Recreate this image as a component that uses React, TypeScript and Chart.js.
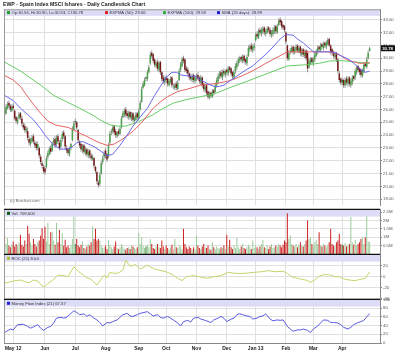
import React, { useEffect, useRef } from 'react';
import { Chart, registerables } from 'chart.js';
Chart.register(...registerables);

const FONT = '"Liberation Sans", Arial, Helvetica, sans-serif';

// ---- x axis (trading-day index; 0 = 23 Apr 2012) ----
const X_MIN = -0.4;
const X_MAX = 260.2;
const MONTH_TICKS = [6, 28, 49, 70, 93, 112, 133, 154, 174, 195, 214, 234];
const MONTH_LABELS = ['May 12', 'Jun', 'Jul', 'Aug', 'Sep', 'Oct', 'Nov', 'Dec', 'Jan 13', 'Feb', 'Mar', 'Apr'];

// ---- price data ----
const OPEN = [
25.9,25.7,26.1,26.5,26.3,25.9,26.3,25.9,25.4,25.0,
25.3,25.7,25.3,24.8,24.7,24.3,24.3,23.7,23.3,23.5,
23.9,23.4,23.3,23.0,23.0,22.3,21.8,21.5,21.4,21.5,
22.3,22.5,23.0,22.8,23.4,23.7,23.3,23.9,23.4,23.1,
23.7,24.2,23.9,23.0,22.9,22.5,23.0,23.6,24.4,25.1,
25.0,24.4,23.5,23.3,22.8,23.2,22.6,22.9,22.4,22.8,
22.4,22.1,22.2,21.5,21.1,20.3,20.2,21.0,21.9,22.3,
22.8,22.5,22.3,23.4,24.2,24.3,24.7,24.3,23.9,24.3,
24.1,24.6,25.4,25.6,26.0,25.7,25.4,25.8,25.3,25.7,
25.1,25.2,25.7,25.3,26.0,26.6,27.7,27.9,28.5,28.4,
28.9,29.6,30.4,30.3,29.9,29.4,29.7,29.1,29.7,28.9,
28.5,28.1,28.5,28.4,27.9,28.1,28.5,27.8,27.7,28.0,
27.6,28.3,29.1,29.4,30.0,29.9,29.2,29.1,28.8,28.6,
28.3,28.7,28.2,28.4,28.7,28.5,28.1,28.5,28.0,27.5,
27.9,27.4,26.9,27.3,27.0,27.5,27.4,27.9,28.2,28.6,
28.9,28.5,29.0,28.7,29.1,28.8,29.3,29.2,28.9,28.5,
29.0,29.3,29.6,29.8,30.1,29.8,30.2,29.9,29.6,30.2,
30.7,31.0,30.6,30.8,31.4,31.9,31.6,32.2,31.9,32.1,
32.4,31.9,32.0,32.4,32.2,31.8,31.9,32.1,32.5,32.0,
32.6,33.0,32.9,32.6,32.5,32.0,31.0,29.9,30.5,30.5,
30.9,30.4,30.6,31.0,30.5,30.9,30.3,30.7,30.2,30.6,
30.4,29.3,29.6,30.0,29.6,29.9,30.2,30.5,30.9,30.6,
31.1,30.8,31.2,30.9,31.1,31.5,31.0,30.7,30.5,30.1,
30.4,29.9,28.8,28.4,28.3,28.3,27.9,28.4,28.0,28.5,
27.9,28.1,28.6,28.5,28.9,29.4,29.2,29.1,28.6,28.9,
29.6,29.3,30.0,30.56];
const HIGH = [
26.1,26.4,26.6,26.7,26.4,26.4,26.5,26.0,25.5,25.4,
25.8,25.8,25.5,25.0,24.9,24.7,24.6,23.9,23.8,24.0,
24.1,23.6,23.5,23.5,23.1,22.5,22.0,21.7,21.6,22.4,
22.8,23.1,23.2,23.5,23.8,23.9,24.0,24.1,23.6,23.8,
24.3,24.4,24.0,23.2,23.0,23.1,23.4,24.7,25.1,25.3,
25.1,24.5,23.6,23.4,23.3,23.3,23.1,23.0,22.9,22.9,
22.6,22.5,22.3,21.6,21.2,20.5,21.1,22.0,22.4,22.8,
23.0,22.6,23.4,24.3,24.5,24.8,24.8,24.5,24.3,24.5,
24.7,25.5,25.9,26.1,26.2,25.9,25.9,25.9,25.8,25.8,
25.5,25.8,25.8,26.1,26.7,27.8,28.2,28.5,28.6,29.1,
29.5,30.5,30.6,30.4,30.0,29.8,29.9,29.8,29.8,29.0,
28.7,28.6,28.7,28.5,28.4,28.6,28.6,28.0,28.1,28.2,
28.3,29.2,29.7,30.1,30.2,30.0,29.4,29.3,28.9,28.8,
28.8,28.8,28.7,28.8,28.9,28.6,28.7,28.6,28.1,28.0,
28.0,27.5,27.4,27.4,27.6,27.6,28.1,28.5,28.8,29.0,
29.1,29.1,29.2,29.1,29.2,29.4,29.4,29.3,29.0,29.1,
29.6,29.8,30.1,30.2,30.2,30.3,30.3,30.0,30.3,31.0,
31.1,31.2,31.1,31.2,32.0,32.1,32.3,32.4,32.4,32.5,
32.5,32.3,32.5,32.5,32.4,32.2,32.4,32.6,32.6,32.7,
33.1,33.2,33.0,32.7,32.6,32.1,31.1,30.6,30.8,31.0,
31.0,30.9,31.1,31.1,31.0,31.0,30.8,30.8,30.7,30.7,
30.6,30.0,30.1,30.1,30.1,30.5,30.7,31.0,31.0,31.2,
31.2,31.3,31.3,31.4,31.6,31.6,31.1,30.8,30.6,30.5,
30.5,30.0,29.0,28.5,28.5,28.4,28.5,28.6,28.6,28.6,
28.4,28.7,28.7,29.2,29.5,29.5,29.3,29.2,29.2,29.7,
29.7,30.1,30.6,30.90];
const LOW = [
25.4,25.6,26.0,26.1,25.8,25.8,25.9,25.2,24.9,24.8,
25.2,25.2,24.7,24.4,24.2,24.1,23.6,23.2,23.1,23.4,
23.3,23.0,22.8,22.8,22.2,21.7,21.4,21.0,20.9,21.4,
22.1,22.4,22.5,22.7,23.2,23.0,23.1,23.3,22.8,22.9,
23.5,23.7,22.9,22.6,22.4,22.3,22.8,23.5,24.3,24.8,
24.4,23.4,23.0,22.7,22.6,22.5,22.4,22.3,22.2,22.2,
22.0,22.0,21.4,21.0,20.2,19.9,20.0,20.9,21.7,22.1,
22.2,21.9,22.2,23.2,24.0,24.1,24.0,23.8,23.8,23.9,
24.0,24.5,25.3,25.4,25.4,25.3,25.2,25.2,25.1,25.0,
24.9,25.1,25.2,25.2,25.9,26.5,27.6,27.8,28.2,28.2,
28.8,29.5,30.0,29.6,29.3,29.2,29.0,28.9,28.7,28.2,
28.0,27.9,28.1,27.8,27.8,28.0,27.7,27.6,27.5,27.5,
27.5,28.2,28.9,29.3,29.6,28.9,28.8,28.6,28.3,28.2,
28.1,28.1,28.0,28.2,28.3,28.0,27.9,27.7,27.4,27.3,
27.1,26.8,26.8,26.9,26.9,27.1,27.3,27.7,28.0,28.4,
28.4,28.3,28.6,28.5,28.7,28.6,28.9,28.6,28.4,28.3,
28.8,29.1,29.4,29.6,29.7,29.6,29.6,29.5,29.4,30.1,
30.5,30.5,30.4,30.6,31.3,31.5,31.5,31.8,31.7,31.9,
31.8,31.7,31.9,32.0,31.7,31.6,31.7,31.9,31.9,31.9,
32.5,32.6,32.3,32.2,32.0,31.1,29.8,29.8,30.3,30.4,
30.3,30.3,30.5,30.4,30.4,30.2,30.1,30.1,30.0,29.8,
28.9,29.2,29.5,29.5,29.4,29.7,30.1,30.3,30.5,30.5,
30.7,30.6,30.8,30.7,31.0,30.9,30.3,30.2,30.0,29.9,
29.7,28.8,28.1,27.9,27.9,27.7,27.7,27.9,27.8,27.8,
27.7,27.9,28.2,28.3,28.7,28.9,28.7,28.5,28.5,28.8,
29.3,29.2,29.9,30.53];
const CLOSE = [
25.6,26.2,26.4,26.3,26.0,26.2,26.1,25.3,25.1,25.2,
25.6,25.4,24.9,24.6,24.4,24.5,23.8,23.4,23.6,23.8,
23.5,23.2,23.0,23.3,22.4,21.9,21.6,21.2,21.1,22.2,
22.6,22.9,22.7,23.3,23.6,23.2,23.8,23.5,23.0,23.6,
24.1,23.9,23.1,22.8,22.6,22.9,23.3,24.5,24.9,25.0,
24.6,23.6,23.2,22.9,23.1,22.7,22.9,22.5,22.7,22.4,
22.2,22.3,21.6,21.2,20.4,20.1,20.9,21.8,22.2,22.6,
22.4,22.1,23.2,24.1,24.3,24.6,24.2,24.0,24.2,24.1,
24.5,25.3,25.7,25.9,25.6,25.5,25.7,25.4,25.6,25.2,
25.3,25.6,25.4,25.9,26.5,27.6,28.0,28.3,28.4,28.9,
29.3,30.3,30.2,29.8,29.5,29.6,29.2,29.6,28.9,28.4,
28.2,28.4,28.3,28.0,28.2,28.4,27.9,27.8,27.9,27.7,
28.1,29.0,29.5,29.9,29.8,29.1,29.0,28.8,28.5,28.4,
28.6,28.3,28.5,28.6,28.4,28.2,28.5,27.9,27.6,27.8,
27.3,27.0,27.2,27.1,27.4,27.3,27.9,28.3,28.6,28.8,
28.6,28.9,28.8,29.0,28.9,29.2,29.1,28.8,28.6,28.9,
29.4,29.6,29.9,30.0,29.9,30.1,29.8,29.7,30.1,30.8,
30.9,30.7,30.9,31.0,31.8,31.7,32.1,32.0,32.2,32.3,
32.0,32.1,32.3,32.2,31.9,32.0,32.2,32.4,32.1,32.5,
32.9,32.8,32.5,32.4,32.2,31.3,30.0,30.4,30.6,30.8,
30.5,30.7,30.9,30.6,30.8,30.4,30.6,30.3,30.5,30.0,
29.2,29.8,29.9,29.7,29.9,30.3,30.5,30.8,30.7,31.0,
30.9,31.1,31.0,31.2,31.4,31.0,30.5,30.4,30.2,30.3,
29.9,29.0,28.3,28.1,28.1,27.9,28.3,28.1,28.4,28.0,
28.2,28.5,28.4,29.0,29.3,29.1,28.9,28.7,29.0,29.5,
29.4,29.9,30.4,30.78];

// volume in millions of shares
const VOLUME = [
1.09,0.6,0.95,0.5,0.4,0.55,0.75,0.45,0.6,0.5,
0.7,1.15,0.55,0.45,0.8,0.6,1.67,1.2,0.7,0.5,
0.9,0.6,0.45,0.7,0.8,1.1,1.53,0.9,1.63,0.75,
1.86,0.6,1.3,1.33,0.8,0.55,1.86,0.7,1.43,0.6,
1.25,0.5,0.85,0.4,0.5,0.35,0.55,0.9,2.22,0.6,
0.9,0.5,0.4,0.55,0.75,0.35,0.3,0.45,0.6,0.5,
0.7,1.64,0.9,1.5,0.8,0.9,0.8,0.5,0.35,0.4,
0.5,0.3,0.8,0.55,0.4,0.3,0.45,0.75,0.35,0.3,
0.4,0.6,0.45,0.3,0.25,0.35,0.4,0.3,0.5,0.45,
0.35,0.3,0.4,1.26,0.6,1.0,0.5,0.35,0.45,0.55,
0.4,0.9,0.6,0.35,0.3,0.45,0.6,0.4,0.35,0.8,
0.45,0.3,0.5,0.35,0.25,0.4,0.55,0.3,0.9,0.4,
0.35,0.5,0.45,0.3,1.5,0.6,0.4,0.3,0.45,0.35,
0.25,0.4,0.3,1.07,0.5,0.35,0.3,0.45,0.6,0.4,
0.35,0.5,0.3,0.25,0.7,0.4,0.3,0.45,0.35,0.3,
0.4,0.35,0.5,0.3,1.15,0.45,0.85,0.4,0.3,0.5,
0.35,0.95,0.4,0.3,0.45,0.6,0.35,0.3,0.4,0.55,
0.45,0.3,0.8,0.35,0.5,0.4,0.3,0.45,0.6,0.85,
0.4,0.35,0.5,0.3,0.45,0.6,0.35,0.4,0.5,0.45,
0.6,0.5,0.4,0.55,0.8,0.7,2.42,0.9,1.1,0.6,
0.5,0.45,0.6,0.4,0.55,0.7,0.5,0.45,0.6,0.8,
2.0,0.9,1.0,0.6,0.5,0.7,0.85,0.6,1.3,0.5,
0.45,0.6,0.5,0.4,0.55,0.7,1.5,0.6,0.5,0.45,
0.7,0.8,1.2,0.6,0.55,0.5,0.65,0.45,0.5,0.6,
2.2,0.7,0.55,0.85,0.5,0.6,0.7,0.9,1.0,0.6,
1.0,2.25,0.75,0.7096];

const SMA20_K = [0,6,11,16,20,25,28,31,34,39,43,46,50,54,58,62,66,71,75,80,85,89,94,99,104,108,112,116,119,122,128,132,136,141,145,149,152,157,161,166,172,177,182,187,191,195,200,203,207,210,214,217,222,226,230,233,237,240,244,247,250,253];
const SMA20_V = [27.1,26.7,26.1,25.6,25.2,24.5,24.0,23.6,23.2,22.9,22.9,23.0,23.4,23.5,23.3,23.1,22.8,22.4,22.5,23.2,24.0,24.7,25.4,26.1,27.1,27.8,28.5,28.9,28.9,28.7,28.6,28.6,28.3,28.0,27.8,27.8,27.9,28.3,28.6,29.0,29.4,29.9,30.4,31.0,31.5,31.85,31.8,31.5,31.2,30.9,30.5,30.5,30.5,30.5,30.4,30.2,30.0,29.8,29.4,29.1,28.9,28.99];
const EMA50_K = [0,6,11,16,20,25,30,35,39,44,48,53,57,62,66,71,76,82,89,96,103,108,113,120,127,136,145,150,156,162,168,175,181,186,191,196,203,210,217,224,229,233,237,241,246,253];
const EMA50_V = [28.65,28.3,27.8,27.0,26.4,25.7,25.1,24.8,24.7,24.6,24.4,24.1,23.9,23.6,23.4,23.2,23.3,23.7,24.3,25.1,26.1,26.6,27.0,27.4,27.6,27.9,28.0,28.1,28.25,28.5,28.8,29.2,29.6,29.9,30.2,30.5,30.5,30.5,30.5,30.5,30.4,30.2,29.9,29.75,29.6,29.66];
const EMA100_K = [0,11,25,34,43,52,62,66,73,78,84,92,103,110,117,127,136,145,156,168,182,196,210,218,226,235,243,253];
const EMA100_V = [29.7,29.0,27.9,27.1,26.6,26.1,25.5,25.2,24.8,24.7,24.7,25.0,25.6,26.1,26.5,26.8,27.0,27.2,27.7,28.2,28.8,29.4,29.5,29.6,29.8,29.8,29.7,29.59];

// indicators
const ROC_K = [0,4,8,11,14,17,20,23,26,28,30,33,36,37,41,44,48,51,53,57,60,64,66,69,71,73,76,79,82,84,87,91,94,99,103,107,112,117,120,123,126,131,135,140,145,150,155,160,166,173,178,183,188,193,196,199,203,207,210,212,215,218,222,226,229,232,235,239,243,246,250,253];
const ROC_V = [-12,-9,-7,-6,-9,-11,-6,-8,-17,-18,-12,-7,0,3,2,0,18,10,6,-2,-5,-15,-8,3,-2,8,6,7,12,30,19,22,14,21,15,12,9,3,-3,-7,0,2,0,-3,0,2,8,6,6,8,9,11,9,10,6,0,-3,-5,-7,-10,-6,1,4,3,0,0,-4,-6,-7,-5,-3,8.64];
const MFI_K = [0,4,6,9,13,16,18,20,23,25,27,30,32,34,36,39,41,43,45,48,50,52,55,57,59,62,64,66,68,71,73,75,78,82,85,87,89,92,94,99,101,103,106,108,110,113,115,117,120,122,124,127,129,131,134,136,139,143,145,148,150,152,154,157,159,161,163,165,168,170,172,175,177,179,181,184,186,189,191,193,196,198,200,203,205,207,210,212,214,217,219,221,224,226,228,231,233,235,238,240,242,245,247,249,253];
const MFI_V = [24,32,30,42,43,38,34,37,42,34,29,36,38,46,57,59,57,59,65,74,70,65,67,61,65,57,53,47,39,47,46,49,53,65,68,62,61,65,68,72,67,62,65,59,57,61,57,53,46,39,49,52,48,57,59,55,52,47,53,57,61,57,49,55,57,65,67,65,62,61,55,57,61,62,67,55,51,53,52,53,38,32,27,30,30,32,29,24,32,39,46,53,52,47,47,46,42,36,32,36,42,47,49,52,67.57];

// axis tick values
const PRICE_TICKS = [19,20,21,22,23,24,25,26,27,28,29,30,31,32,33];
const VOL_TICKS = [0.5,1,1.5,2,2.5];
const ROC_TICKS = [-40,-20,0,20];
const MFI_TICKS = [0,20,40,60,80,100];

const GRID = '#e0e0e0';
const STRIP = '#dcdcf6';
const LAST = CLOSE.length - 1;

const pts = (ks: number[], vs: number[]) => ks.map((k, i) => ({ x: k, y: vs[i] }));

function xScale(show: boolean): any {
  return {
    type: 'linear', min: X_MIN, max: X_MAX, offset: false,
    afterBuildTicks: (s: any) => { s.ticks = MONTH_TICKS.map((v) => ({ value: v })); },
    afterFit: (s: any) => { s.height = show ? 19 : 0; },
    grid: { color: GRID, lineWidth: 1, drawTicks: false, offset: false },
    border: { display: show, color: '#888' },
    ticks: {
      display: show, autoSkip: false, maxRotation: 0, minRotation: 0, padding: 3, color: '#222',
      font: { size: 5, weight: 'bold', family: FONT },
      callback: (_v: any, i: number) => MONTH_LABELS[i],
    },
  };
}

function yScale(min: number, max: number, ticks: number[], fmt: (v: number) => string): any {
  return {
    position: 'right', min, max,
    afterBuildTicks: (s: any) => { s.ticks = ticks.map((v) => ({ value: v })); },
    afterFit: (s: any) => { s.width = 20; },
    grid: { color: GRID, lineWidth: 1, drawTicks: true, tickLength: 2, tickColor: '#888' },
    border: { display: true, color: '#888' },
    ticks: { autoSkip: false, padding: 1, color: '#555', font: { size: 4.3, family: FONT }, callback: (v: any) => fmt(Number(v)) },
  };
}

type Item = { x: number; color: string; text: string };

function decoPlugin(items: Item[], opts: { stripOff: number; main?: boolean }): any {
  return {
    id: 'deco',
    beforeDatasetsDraw(chart: any) {
      const { ctx, chartArea: a } = chart;
      ctx.save();
      ctx.fillStyle = STRIP;
      const top = a.top + opts.stripOff;
      const h = 6.6;
      ctx.fillRect(a.left, top, a.right - a.left, h);
      ctx.font = `4.2px ${FONT}`;
      ctx.textBaseline = 'middle';
      ctx.textAlign = 'left';
      const cy = top + h / 2;
      items.forEach((it) => {
        ctx.fillStyle = it.color;
        ctx.fillRect(it.x, cy - 1.5, 3, 3);
        ctx.fillStyle = '#333';
        ctx.fillText(it.text, it.x + 4.5, cy + 0.2);
      });
      if (opts.main) {
        ctx.fillStyle = '#666';
        ctx.font = `4px ${FONT}`;
        ctx.fillText('(c) Barchart.com', a.left + 6, a.bottom - 5);
      }
      ctx.restore();
    },
    afterDraw(chart: any) {
      const { ctx, chartArea: a } = chart;
      ctx.save();
      ctx.strokeStyle = '#999';
      ctx.lineWidth = 1;
      ctx.beginPath();
      ctx.moveTo(a.left + 0.5, a.top);
      ctx.lineTo(a.left + 0.5, a.bottom);
      ctx.stroke();
      if (opts.main) {
        ctx.beginPath();
        ctx.moveTo(a.left, a.top + 0.5);
        ctx.lineTo(a.right, a.top + 0.5);
        ctx.stroke();
        ctx.fillStyle = '#222';
        ctx.font = `bold 5.2px ${FONT}`;
        ctx.textBaseline = 'middle';
        ctx.textAlign = 'left';
        ctx.fillText('EWP - Spain Index MSCI Ishares - Daily Candlestick Chart', 3, 4.6);
        const y = chart.scales.y.getPixelForValue(CLOSE[LAST]);
        ctx.fillStyle = '#111';
        ctx.fillRect(a.right + 1, y - 3, 14, 6);
        ctx.fillStyle = '#fff';
        ctx.font = `bold 4.3px ${FONT}`;
        ctx.fillText(CLOSE[LAST].toFixed(2), a.right + 2.2, y + 0.2);
      } else {
        ctx.strokeStyle = '#111';
        ctx.lineWidth = 1.3;
        ctx.beginPath();
        ctx.moveTo(a.left, a.top + 0.3);
        ctx.lineTo(a.right, a.top + 0.3);
        ctx.stroke();
      }
      ctx.restore();
    },
  };
}

const baseOptions = (padTop: number, padBottom: number) => ({
  responsive: false,
  animation: false,
  devicePixelRatio: 1,
  events: [],
  layout: { padding: { left: 4, right: 0, top: padTop, bottom: padBottom } },
  plugins: { legend: { display: false }, tooltip: { enabled: false }, title: { display: false } },
});

function mainConfig(): any {
  const idx = CLOSE.map((_, i) => i);
  const bodyColors = idx.map((i) => {
    const prev = i > 0 ? CLOSE[i - 1] : OPEN[i];
    const up = CLOSE[i] >= prev;
    const hollow = CLOSE[i] >= OPEN[i];
    if (up) return hollow ? '#4aa04a' : '#237323';
    return hollow ? '#a86060' : '#741818';
  });
  return {
    type: 'bar',
    data: {
      datasets: [
        { type: 'bar', data: idx.map((i) => ({ x: i, y: [LOW[i], HIGH[i]] })), backgroundColor: '#8c8c8c', barThickness: 0.9, grouped: false, inflateAmount: 0, borderWidth: 0, order: 4 },
        { type: 'bar', data: idx.map((i) => ({ x: i, y: [OPEN[i], CLOSE[i]] })), backgroundColor: bodyColors, barThickness: 1.5, grouped: false, inflateAmount: 0, borderWidth: 0, order: 3 },
        { type: 'line', data: pts(EMA100_K, EMA100_V), borderColor: '#66cc66', borderWidth: 1, pointRadius: 0, tension: 0, fill: false, order: 2 },
        { type: 'line', data: pts(EMA50_K, EMA50_V), borderColor: '#e46464', borderWidth: 1, pointRadius: 0, tension: 0, fill: false, order: 1 },
        { type: 'line', data: pts(SMA20_K, SMA20_V), borderColor: '#6a6aec', borderWidth: 1, pointRadius: 0, tension: 0, fill: false, order: 0 },
      ],
    },
    options: {
      ...baseOptions(9.3, 0),
      scales: { x: xScale(false), y: yScale(18.51, 33.82, PRICE_TICKS, (v) => v.toFixed(2)) },
    },
    plugins: [decoPlugin([
      { x: 7, color: '#20a020', text: `Op:${OPEN[LAST].toFixed(2)}, Hi:${HIGH[LAST].toFixed(2)}, Lo:${LOW[LAST].toFixed(2)}, Cl:${CLOSE[LAST].toFixed(2)}` },
      { x: 105, color: '#e02020', text: `EXPMA (50): ${EMA50_V[EMA50_V.length - 1].toFixed(2)}` },
      { x: 163, color: '#30b030', text: `EXPMA (100): ${EMA100_V[EMA100_V.length - 1].toFixed(2)}` },
      { x: 217, color: '#2020d0', text: `SMA (20 days): ${SMA20_V[SMA20_V.length - 1].toFixed(2)}` },
    ], { main: true, stripOff: 0 })],
  };
}

function volConfig(): any {
  const idx = VOLUME.map((_, i) => i);
  const colors = idx.map((i) => {
    const prev = i > 0 ? CLOSE[i - 1] : OPEN[i];
    const up = CLOSE[i] >= prev;
    const hollow = CLOSE[i] >= OPEN[i];
    if (up) return hollow ? '#9ccb9c' : '#2a7a2a';
    return hollow ? '#eea6a6' : '#cc2222';
  });
  return {
    type: 'bar',
    data: { datasets: [{ type: 'bar', data: idx.map((i) => ({ x: i, y: VOLUME[i] })), backgroundColor: colors, barThickness: 1, grouped: false, inflateAmount: 0, borderWidth: 0 }] },
    options: {
      ...baseOptions(4, 4),
      scales: { x: xScale(false), y: yScale(0, 2.68, VOL_TICKS, (v) => `${v}M`) },
    },
    plugins: [decoPlugin([{ x: 7, color: '#0a5a0a', text: `Vol: ${Math.round(VOLUME[LAST] * 1e6).toLocaleString('en-US')}` }], { stripOff: 1 })],
  };
}

function rocConfig(): any {
  return {
    type: 'line',
    data: { datasets: [{ data: pts(ROC_K, ROC_V), borderColor: '#c4d46a', borderWidth: 1, pointRadius: 0, tension: 0, fill: false }] },
    options: {
      ...baseOptions(4, 4),
      scales: { x: xScale(false), y: yScale(-40.5, 41.3, ROC_TICKS, (v) => String(v)) },
    },
    plugins: [decoPlugin([{ x: 7, color: '#a8c030', text: `ROC (21) ${ROC_V[ROC_V.length - 1].toFixed(2)}` }], { stripOff: 1 })],
  };
}

function mfiConfig(): any {
  return {
    type: 'line',
    data: { datasets: [{ data: pts(MFI_K, MFI_V), borderColor: '#5a5ae0', borderWidth: 1, pointRadius: 0, tension: 0, fill: false }] },
    options: {
      ...baseOptions(4, 0),
      scales: { x: xScale(true), y: yScale(0, 101, MFI_TICKS, (v) => String(v)) },
    },
    plugins: [decoPlugin([{ x: 7, color: '#2020d0', text: `Money Flow Index (21) ${MFI_V[MFI_V.length - 1].toFixed(2)}` }], { stripOff: 1 })],
  };
}

export default function App() {
  const r1 = useRef<HTMLCanvasElement>(null);
  const r2 = useRef<HTMLCanvasElement>(null);
  const r3 = useRef<HTMLCanvasElement>(null);
  const r4 = useRef<HTMLCanvasElement>(null);

  useEffect(() => {
    Chart.defaults.font.family = FONT;
    const charts = [
      new Chart(r1.current as HTMLCanvasElement, mainConfig()),
      new Chart(r2.current as HTMLCanvasElement, volConfig()),
      new Chart(r3.current as HTMLCanvasElement, rocConfig()),
      new Chart(r4.current as HTMLCanvasElement, mfiConfig()),
    ];
    return () => charts.forEach((c) => c.destroy());
  }, []);

  const cs = (top: number): React.CSSProperties => ({ position: 'absolute', left: 0, top, display: 'block' });

  return (
    <div style={{ position: 'absolute', left: 0, top: 0, width: 400, height: 362, background: '#fff', overflow: 'hidden' }}>
      <canvas ref={r1} width={400} height={209} style={cs(0)} />
      <canvas ref={r2} width={400} height={53} style={cs(205)} />
      <canvas ref={r3} width={400} height={53} style={cs(250)} />
      <canvas ref={r4} width={400} height={67} style={cs(295)} />
    </div>
  );
}
